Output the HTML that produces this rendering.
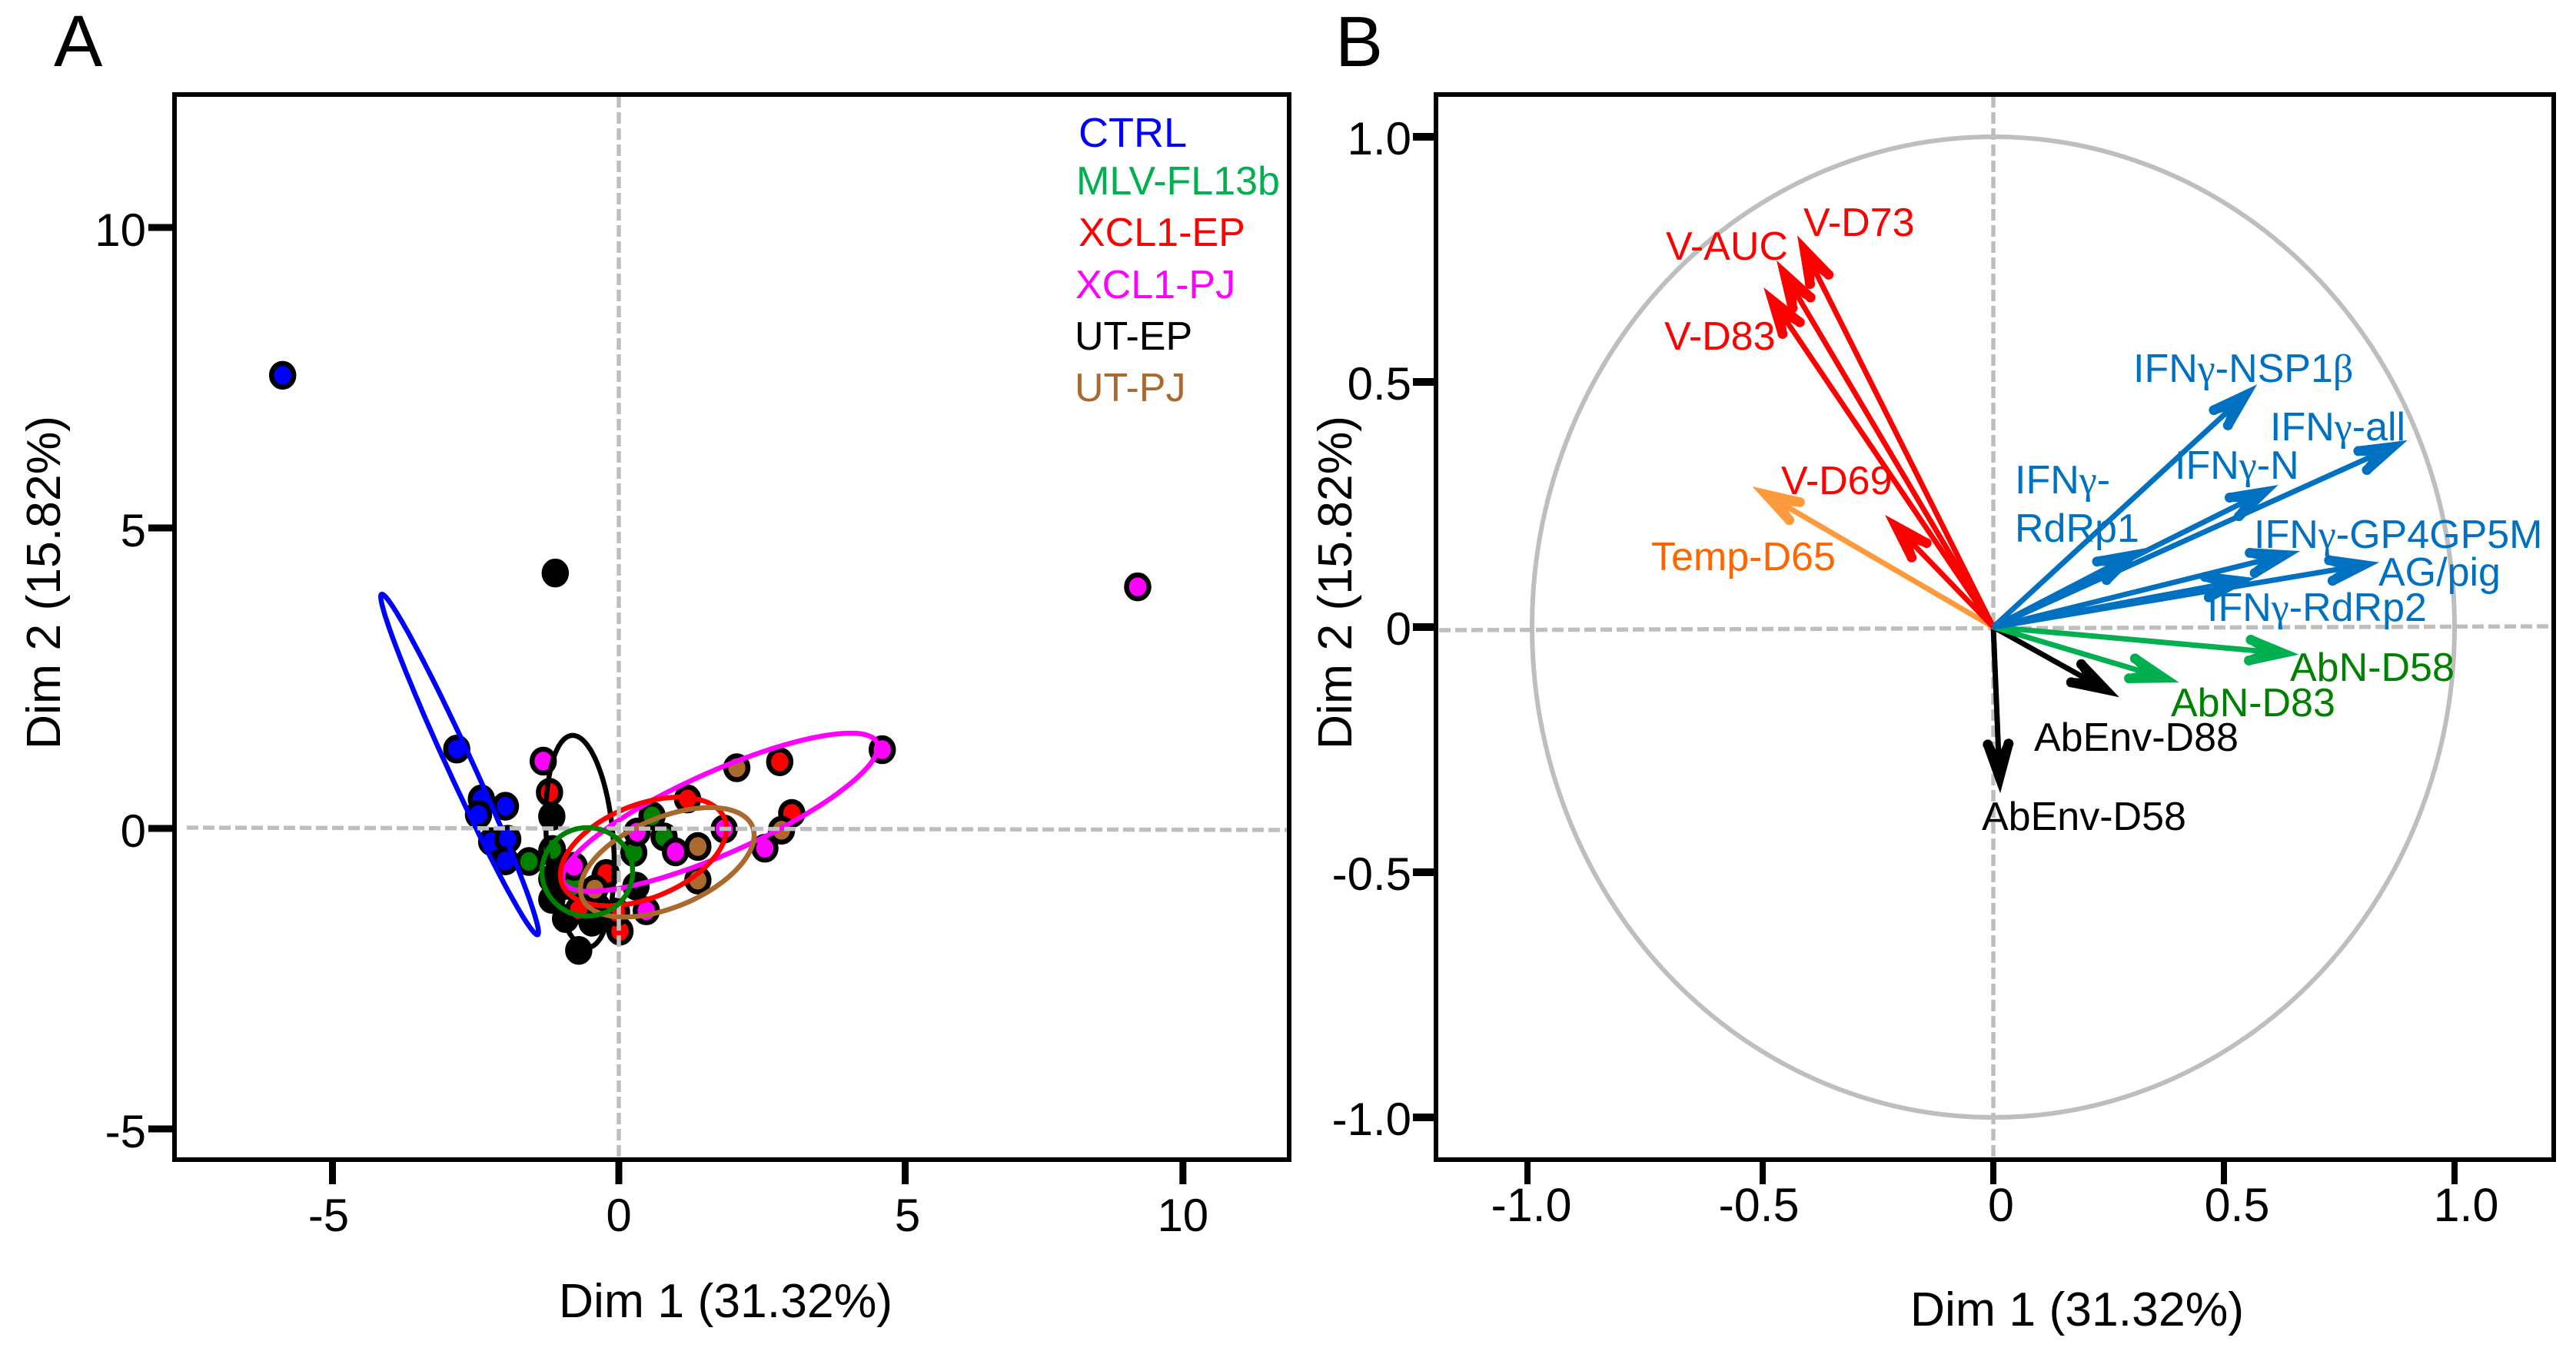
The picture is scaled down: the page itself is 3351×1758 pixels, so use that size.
<!DOCTYPE html>
<html lang="en">
<head>
<meta charset="utf-8">
<title>PCA individuals and variables</title>
<style>
html,body{margin:0;padding:0;background:#fff;}
svg{display:block;font-family:"Liberation Sans",Arial,sans-serif;}
.g{font-family:"Liberation Serif","DejaVu Serif",serif;}
</style>
</head>
<body>
<svg id="fig" xmlns="http://www.w3.org/2000/svg" width="3351" height="1758" viewBox="0 0 3351 1758">
<rect x="0" y="0" width="3351" height="1758" fill="#fff"/>
<g id="panelA"></g>
<g id="panelB"></g>

<text x="70" y="86" font-size="95">A</text>
<text x="1737" y="86" font-size="93">B</text>

<text x="944" y="1714" font-size="62.5" text-anchor="middle">Dim 1 (31.32%)</text>
<text transform="translate(78,758) rotate(-90)" font-size="62.5" text-anchor="middle">Dim 2 (15.82%)</text>
<text x="2702" y="1725" font-size="62.5" text-anchor="middle">Dim 1 (31.32%)</text>
<text transform="translate(1758,758) rotate(-90)" font-size="62.5" text-anchor="middle">Dim 2 (15.82%)</text>

<g font-size="52">
<text x="1403" y="191" fill="#0000ff" font-size="54">CTRL</text>
<text x="1400" y="253" fill="#00b050">MLV-FL13b</text>
<text x="1403" y="320" fill="#ff0000">XCL1-EP</text>
<text x="1399" y="388" fill="#ff00ff">XCL1-PJ</text>
<text x="1398" y="455" fill="#000000">UT-EP</text>
<text x="1398" y="522" fill="#aa6a2e">UT-PJ</text>
</g>

<g id="varLabels" font-size="52">
<text x="2346" y="307" fill="#ff0000">V-D73</text>
<text x="2167" y="338" fill="#ff0000">V-AUC</text>
<text x="2165" y="455" fill="#ff0000">V-D83</text>
<text x="2317" y="643" fill="#ff0000">V-D69</text>
<text x="2148" y="742" fill="#ff6600">Temp-D65</text>
<text x="2775" y="497" fill="#0070c0">IFN<tspan class="g">γ</tspan>-NSP1<tspan class="g">β</tspan></text>
<text x="2953" y="573" fill="#0070c0">IFN<tspan class="g">γ</tspan>-all</text>
<text x="2829" y="623" fill="#0070c0">IFN<tspan class="g">γ</tspan>-N</text>
<text x="2621" y="642" fill="#0070c0">IFN<tspan class="g">γ</tspan>-</text>
<text x="2621" y="705" fill="#0070c0">RdRp1</text>
<text x="2932" y="713" fill="#0070c0">IFN<tspan class="g">γ</tspan>-GP4GP5M</text>
<text x="3094" y="762" fill="#0070c0">AG/pig</text>
<text x="2871" y="808" fill="#0070c0">IFN<tspan class="g">γ</tspan>-RdRp2</text>
<text x="2979" y="886" fill="#008000">AbN-D58</text>
<text x="2824" y="932" fill="#008000">AbN-D83</text>
<text x="2646" y="977" fill="#000000">AbEnv-D88</text>
<text x="2578" y="1080" fill="#000000">AbEnv-D58</text>
</g>
</svg>

<script>
// ---------- Panel A data ----------
const groupNames = ['UT-EP', 'CTRL', 'MLV-FL13b', 'XCL1-EP', 'UT-PJ', 'XCL1-PJ'];
const utEpX = [-1.11, -1.17, -0.70, -0.93, -1.17, -1.17, 0.30, -0.24, -0.38, -1.17, -0.47, -1.05, -0.95, -0.50];
const utEpY = [4.25, 0.20, -2.03, -1.50, -1.18, -0.84, -0.96, -0.79, -1.30, -0.37, -1.56, -0.55, -0.95, -1.45];
const ctrlX = [-5.87, -2.83, -2.40, -1.98, -2.45, -2.22, -1.94, -1.98];
const ctrlY = [7.54, 1.32, 0.49, 0.37, 0.23, -0.22, -0.18, -0.54];
const mlvX = [-1.57, -1.16, 0.26, 0.58, 0.79, -0.81];
const mlvY = [-0.55, -0.35, -0.40, 0.21, -0.14, -0.96];
const xclEpX = [-1.21, 1.20, 2.81, 3.02, -0.22, -0.70, 0.02, -0.04];
const xclEpY = [0.60, 0.49, 1.11, 0.25, -0.75, -1.35, -1.71, -1.39];
const utPjX = [2.06, 2.84, 1.38, 1.38, -0.42];
const utPjY = [1.01, -0.03, -0.30, -0.86, -1.01];
const xclPjX = [9.06, -1.32, 1.84, 0.99, 2.55, 0.48, -0.78, 0.32, 4.60];
const xclPjY = [4.02, 1.12, -0.01, -0.39, -0.33, -1.37, -0.63, -0.06, 1.31];

// confidence ellipses: centre and two conjugate semi-diameters, in data units
const ellipseGroups = ['CTRL', 'UT-EP', 'XCL1-PJ', 'XCL1-EP', 'UT-PJ', 'MLV-FL13b'];
const ellipseCx = [-2.78, -0.678, 1.772, 0.43, 0.846, -0.55];
const ellipseCy = [1.065, -0.217, 0.269, -0.384, -0.563, -0.722];
const ellipseAx = [-1.356, -0.128, 2.752, 1.45, 1.517, 0.792];
const ellipseAy = [2.833, 1.765, 1.087, 0.384, 0.448, 0];
const ellipseBx = [0.239, 0.584, 0, 0, 0, 0];
const ellipseBy = [0, 0, 0.742, 0.818, 0.793, 0.735];

const aXTicks = [-5, 0, 5, 9.85];
const aXTickLabels = ['-5', '0', '5', '10'];
const aYTicks = [10, 5, 0, -5];
const aYTickLabels = ['10', '5', '0', '-5'];

// ---------- Panel B data ----------
const varNames = ['AbEnv-D58', 'AbEnv-D88', 'AbN-D83', 'AbN-D58', 'Temp-D65', 'V-D69', 'V-D83', 'V-AUC', 'V-D73',
  'IFNg-RdRp2', 'AG-pig', 'IFNg-GP4GP5M', 'IFNg-RdRp1', 'IFNg-N', 'IFNg-all', 'IFNg-NSP1b'];
const varDim1 = [0.015, 0.273, 0.403, 0.6625, -0.523, -0.235, -0.498, -0.470, -0.425,
  0.568, 0.837, 0.665, 0.330, 0.618, 0.898, 0.572];
const varDim2 = [-0.339, -0.143, -0.113, -0.056, 0.287, 0.229, 0.693, 0.748, 0.799,
  0.100, 0.132, 0.155, 0.161, 0.290, 0.381, 0.495];
const varFamily = ['env', 'env', 'abn', 'abn', 'temp', 'virus', 'virus', 'virus', 'virus',
  'ifn', 'ifn', 'ifn', 'ifn', 'ifn', 'ifn', 'ifn'];

const bXTicks = [-1.01, -0.5, 0, 0.5, 1];
const bXTickLabels = ['-1.0', '-0.5', '0', '0.5', '1.0'];
const bYTicks = [1, 0.5, 0, -0.5, -1];
const bYTickLabels = ['1.0', '0.5', '0', '-0.5', '-1.0'];

// ---------- Helpers ----------
const NS = 'http://www.w3.org/2000/svg';
function make(parent, tag, attrs) {
  const el = document.createElementNS(NS, tag);
  for (const k in attrs) el.setAttribute(k, attrs[k]);
  parent.appendChild(el);
  return el;
}
const GRAY = '#bebebe';
const DASH = '15 6';

// ---------- Axis functions ----------
const ax = v => 805 + v * 74.5;
const ay = v => 1078 - v * 78.2;
const bx = v => 2593 + v * 600;
const by = v => 816 - v * 638;

const panelA = document.getElementById('panelA');
const panelB = document.getElementById('panelB');

// ---------- Panel A ----------
const groupX = [utEpX, ctrlX, mlvX, xclEpX, utPjX, xclPjX];
const groupY = [utEpY, ctrlY, mlvY, xclEpY, utPjY, xclPjY];
const groupFill = ['#000000', '#0000ff', '#008000', '#ff0000', '#aa6a2e', '#ff00ff'];
groupNames.forEach((name, g) => {
  groupX[g].forEach((vx, i) => {
    const c = make(panelA, 'ellipse', {cx: ax(vx), cy: ay(groupY[g][i]), rx: 14.5, ry: 15.5,
      fill: groupFill[g], stroke: '#000', 'stroke-width': 6.5});
    
    
  });
});

const ellipseColor = {'CTRL': '#0000ff', 'UT-EP': '#000000', 'XCL1-PJ': '#ff00ff', 'XCL1-EP': '#ff0000', 'UT-PJ': '#aa6a2e', 'MLV-FL13b': '#008000'};
function drawEllipse(i) {
  let d = '';
  for (let k = 0; k < 120; k++) {
    const t = k / 120 * Math.PI * 2;
    const vx = ellipseCx[i] + Math.cos(t) * ellipseAx[i] + Math.sin(t) * ellipseBx[i];
    const vy = ellipseCy[i] + Math.cos(t) * ellipseAy[i] + Math.sin(t) * ellipseBy[i];
    d += (k ? 'L' : 'M') + ax(vx).toFixed(1) + ' ' + ay(vy).toFixed(1);
  }
  const p = make(panelA, 'path', {d: d + 'Z', fill: 'none', stroke: ellipseColor[ellipseGroups[i]], 'stroke-width': 6.5});
  
  
}
[0, 1, 2, 3, 4].forEach(drawEllipse);

const aH = make(panelA, 'line', {x1: 243, y1: ay(0) - 1, x2: 1675, y2: ay(0) + 2, stroke: GRAY, 'stroke-width': 5.5, 'stroke-dasharray': DASH});


const aV = make(panelA, 'line', {x1: ax(0), y1: 125, x2: ax(0), y2: 1507, stroke: GRAY, 'stroke-width': 5.5, 'stroke-dasharray': DASH});



drawEllipse(5);

const aFrame = make(panelA, 'rect', {x: 227, y: 123, width: 1450, height: 1386, fill: 'none', stroke: '#000', 'stroke-width': 6});



const aXLabelNudge = [-5, 0, 3, 0];
aXTicks.forEach((v, i) => {
  const t = make(panelA, 'line', {x1: ax(v), y1: 1509, x2: ax(v), y2: 1541, stroke: '#000', 'stroke-width': 9});
  
  
  const l = make(panelA, 'text', {x: ax(v) + aXLabelNudge[i], y: 1602, 'font-size': 60, 'text-anchor': 'middle'});
  l.textContent = aXTickLabels[i];
  
  
});
aYTicks.forEach((v, i) => {
  const t = make(panelA, 'line', {x1: 193, y1: ay(v), x2: 227, y2: ay(v), stroke: '#000', 'stroke-width': 9});
  
  
  const l = make(panelA, 'text', {x: 190, y: ay(v) + 24, 'font-size': 60, 'text-anchor': 'end'});
  l.textContent = aYTickLabels[i];
  
  
});

// ---------- Panel B ----------
const circle = make(panelB, 'ellipse', {cx: bx(0), cy: by(0), rx: 600, ry: 638, fill: 'none', stroke: GRAY, 'stroke-width': 6});



const bH = make(panelB, 'line', {x1: 1872, y1: by(0) + 4, x2: 3319, y2: by(0) - 1, stroke: GRAY, 'stroke-width': 5.5, 'stroke-dasharray': DASH});


const bV = make(panelB, 'line', {x1: bx(0), y1: 125, x2: bx(0), y2: 1507, stroke: GRAY, 'stroke-width': 5.5, 'stroke-dasharray': DASH});



const familyColor = {env: '#000000', abn: '#00b050', temp: '#ff9a3c', virus: '#ff0000', ifn: '#0070c0'};
varNames.forEach((name, i) => {
  const x0 = bx(0), y0 = by(0), x1 = bx(varDim1[i]), y1 = by(varDim2[i]);
  const len = Math.hypot(x1 - x0, y1 - y0);
  const ux = (x0 - x1) / len, uy = (y0 - y1) / len;   // points back toward the origin
  const nx = -uy, ny = ux;
  const pt = (back, side) => [x1 + ux * back + nx * side, y1 + uy * back + ny * side];
  const col = familyColor[varFamily[i]];
  const g = make(panelB, 'g', {});
  
  
  const s = pt(Math.min(45, len * 0.6), 0);
  make(g, 'line', {x1: x0, y1: y0, x2: s[0], y2: s[1], stroke: col, 'stroke-width': 7});
  const poly = [pt(0, 0), pt(64, 20), pt(64, 7), pt(50, 0), pt(64, -7), pt(64, -20)]
    .map(p => p[0].toFixed(1) + ',' + p[1].toFixed(1)).join(' ');
  make(g, 'polygon', {points: poly, fill: col});
  [13.5, -13.5].forEach(side => {
    const c = pt(64, side);
    make(g, 'circle', {cx: c[0], cy: c[1], r: 6.5, fill: col});
  });
});

const bFrame = make(panelB, 'rect', {x: 1868, y: 123, width: 1454, height: 1386, fill: 'none', stroke: '#000', 'stroke-width': 6});



const bXLabelNudge = [5, -5, 10, 17, 15];
bXTicks.forEach((v, i) => {
  const t = make(panelB, 'line', {x1: bx(v), y1: 1509, x2: bx(v), y2: 1541, stroke: '#000', 'stroke-width': 8});
  
  
  const l = make(panelB, 'text', {x: bx(v) + bXLabelNudge[i], y: 1589, 'font-size': 61, 'text-anchor': 'middle'});
  l.textContent = bXTickLabels[i];
  
  
});
bYTicks.forEach((v, i) => {
  const t = make(panelB, 'line', {x1: 1838, y1: by(v), x2: 1868, y2: by(v), stroke: '#000', 'stroke-width': 10});
  
  
  const l = make(panelB, 'text', {x: 1836, y: by(v) + 23, 'font-size': 60, 'text-anchor': 'end'});
  l.textContent = bYTickLabels[i];
  
  
});
</script>
</body>
</html>
